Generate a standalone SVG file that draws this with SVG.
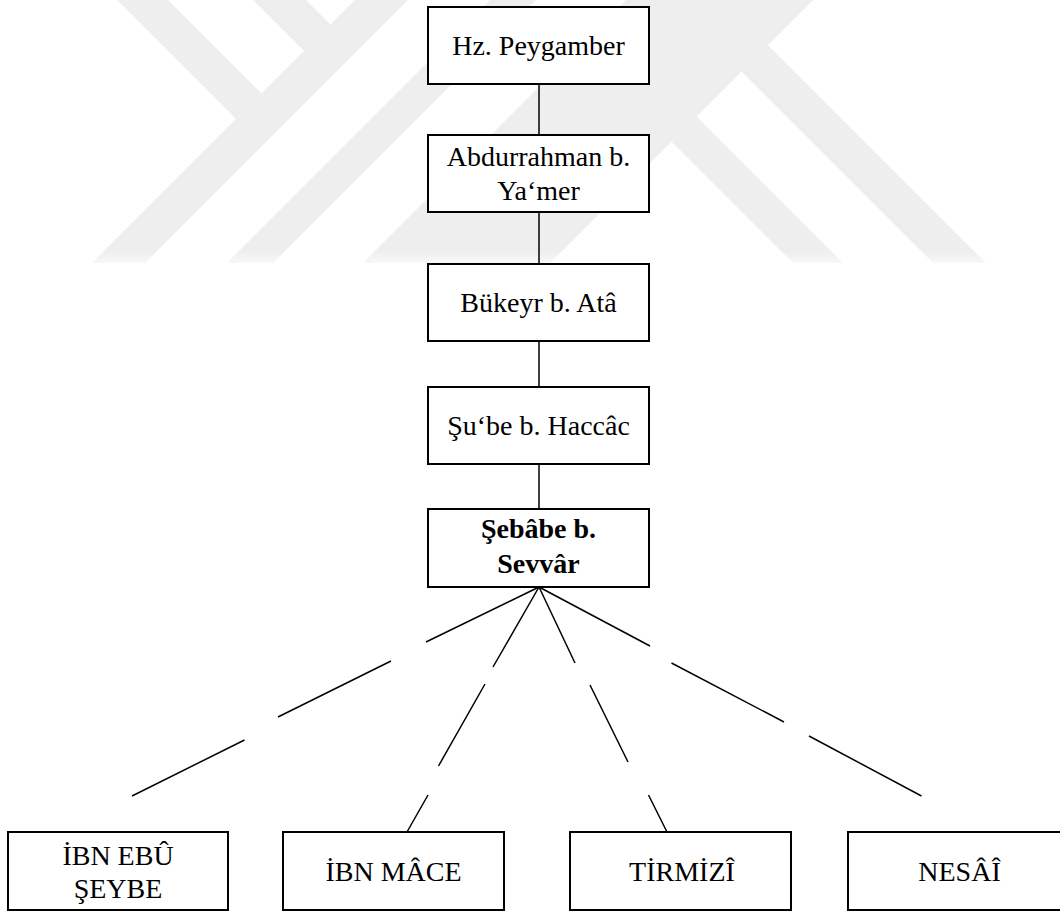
<svg xmlns="http://www.w3.org/2000/svg" width="1060" height="911" viewBox="0 0 1060 911">
<defs>
<linearGradient id="wmFade" gradientUnits="userSpaceOnUse" x1="0" y1="0" x2="0" y2="264">
<stop offset="0" stop-color="#eeeeee"/>
<stop offset="0.95" stop-color="#eeeeee"/>
<stop offset="1" stop-color="#f9f9f9"/>
</linearGradient>
</defs>
<style>
.wm{fill:url(#wmFade);stroke:none}
.box{fill:#ffffff;stroke:#000000;stroke-width:2}
.link{fill:none;stroke:#000000;stroke-width:1.5}
.lbl{font-family:"Liberation Serif","Times New Roman",serif;font-size:28px;fill:#000000;text-anchor:middle}
.bold{font-weight:bold}
</style>
<rect width="1060" height="911" fill="#ffffff"/>
<g id="watermark">
<polygon class="wm" points="117,0 168,0 261.5,93.5 236,119"/>
<polygon class="wm" points="355,0 408,0 145,263 92,263"/>
<polygon class="wm" points="253,0 306,0 330.5,24.5 304,51"/>
<polygon class="wm" points="490,0 536,0 273,263 227,263"/>
<polygon class="wm" points="626,0 813,0 550,263 363,263"/>
<polygon class="wm" points="768,45 986,263 933,263 741.5,71.5"/>
<polygon class="wm" points="696.5,116.5 843,263 793,263 671.5,141.5"/>
</g>
<g id="connectors">
<line class="link" x1="539" y1="84" x2="539" y2="135"/>
<line class="link" x1="539" y1="212" x2="539" y2="264"/>
<line class="link" x1="539" y1="341" x2="539" y2="387"/>
<line class="link" x1="539" y1="464" x2="539" y2="509"/>
<path class="link" d="M539,587 L426,642 M391,661 L278,717 M244.5,740 L132,796"/>
<path class="link" d="M539,587 L493,667 M485,684 L438.5,766 M428,795 L407,832"/>
<path class="link" d="M539,587 L575,663 M590,685 L628,762 M648.5,795 L667,832"/>
<path class="link" d="M539,587 L650,646 M671.5,663 L784,722 M809,736 L921.5,796"/>
</g>
<g id="n-peygamber">
<rect class="box" x="428" y="7" width="221" height="77"/>
<text class="lbl" x="538.5" y="55">Hz. Peygamber</text>
</g>
<g id="n-abdurrahman">
<rect class="box" x="428" y="135" width="221" height="77"/>
<text class="lbl" x="538.5" y="166">Abdurrahman b.</text>
<text class="lbl" x="538.5" y="200">Ya‘mer</text>
</g>
<g id="n-bukeyr">
<rect class="box" x="428" y="264" width="221" height="77"/>
<text class="lbl" x="538.5" y="312">Bükeyr b. Atâ</text>
</g>
<g id="n-sube">
<rect class="box" x="428" y="387" width="221" height="77"/>
<text class="lbl" x="538.5" y="435">Şu‘be b. Haccâc</text>
</g>
<g id="n-sebabe">
<rect class="box" x="428" y="509" width="221" height="78"/>
<text class="lbl bold" x="538.5" y="538">Şebâbe b.</text>
<text class="lbl bold" x="538.5" y="573">Sevvâr</text>
</g>
<g id="n-ibnebuseybe">
<rect class="box" x="8" y="832" width="220" height="78"/>
<text class="lbl" x="118" y="865">İBN EBÛ</text>
<text class="lbl" x="118" y="898">ŞEYBE</text>
</g>
<g id="n-ibnmace">
<rect class="box" x="283" y="832" width="221" height="78"/>
<text class="lbl" x="393.5" y="881">İBN MÂCE</text>
</g>
<g id="n-tirmizi">
<rect class="box" x="570" y="832" width="221" height="78"/>
<text class="lbl" x="682" y="881">TİRMİZÎ</text>
</g>
<g id="n-nesai">
<rect class="box" x="848" y="832" width="222" height="78"/>
<text class="lbl" x="959.5" y="881">NESÂÎ</text>
</g>
</svg>
